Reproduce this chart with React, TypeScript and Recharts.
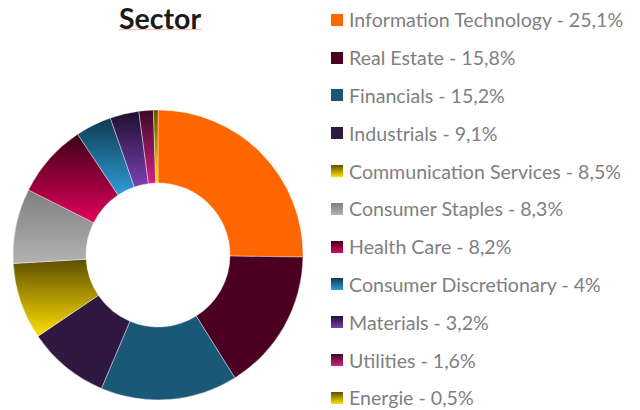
import { PieChart, Pie, Cell, Legend } from 'recharts';

// sector allocation, clockwise from 12 o'clock
const sectors = [
  'Information Technology',
  'Real Estate',
  'Financials',
  'Industrials',
  'Communication Services',
  'Consumer Staples',
  'Health Care',
  'Consumer Discretionary',
  'Materials',
  'Utilities',
  'Energie',
];
const weights = [25.1, 15.8, 15.2, 9.1, 8.5, 8.3, 8.2, 4, 3.2, 1.6, 0.5];
const weightLabels = ['25,1%', '15,8%', '15,2%', '9,1%', '8,5%', '8,3%', '8,2%', '4%', '3,2%', '1,6%', '0,5%'];
// [top, bottom] of each slice's vertical gradient
const colorTop = ['#FF6600', '#4B0021', '#1A5878', '#2F1940', '#5E4F00', '#7F7F7F', '#3C0016', '#0F3A50', '#1E0E2E', '#3A0A25', '#5E4F00'];
const colorBottom = ['#FF6600', '#4B0021', '#1A5878', '#2F1940', '#FFE000', '#B2B2B2', '#E2005E', '#2E9DD8', '#7C40B2', '#D62082', '#FFE000'];

const data = sectors.map((name, i) => ({ name, value: weights[i], label: weightLabels[i] }));

const FONT = 'Lato, "Open Sans", sans-serif';

function SectorLegend() {
  return (
    <div style={{ fontFamily: FONT }}>
      {data.map((d, i) => (
        <div key={d.name} style={{ display: 'flex', alignItems: 'center', height: 37.8 }}>
          <span
            style={{
              width: 12,
              height: 12,
              marginRight: 6,
              flex: 'none',
              background: `linear-gradient(${colorTop[i]}, ${colorBottom[i]})`,
            }}
          />
          <span style={{ fontSize: 19.6, color: '#7F7F7F', whiteSpace: 'nowrap' }}>
            {d.name} - {d.label}
          </span>
        </div>
      ))}
    </div>
  );
}

export default function App() {
  return (
    <div style={{ position: 'absolute', left: 0, top: 0, width: 640, height: 410, background: '#fff' }}>
      <div
        style={{
          position: 'absolute',
          left: 0,
          width: 320,
          top: 0.5,
          textAlign: 'center',
          fontFamily: FONT,
          fontWeight: 700,
          fontSize: 28.5,
          lineHeight: 'normal',
          color: '#1a1a1a',
        }}
      >
        Sector
      </div>
      <div style={{ position: 'absolute', left: 119, top: 29, width: 83, height: 1, background: '#f4b8b8' }} />
      <PieChart width={640} height={410} margin={{ top: 0, right: 0, bottom: 0, left: 0 }}>
        <defs>
          {data.map((d, i) => (
            <linearGradient key={d.name} id={`grad${i}`} x1="0" y1="0" x2="0" y2="1">
              <stop offset="0%" stopColor={colorTop[i]} />
              <stop offset="100%" stopColor={colorBottom[i]} />
            </linearGradient>
          ))}
        </defs>
        <Pie
          data={data}
          dataKey="value"
          nameKey="name"
          cx={158}
          cy={255}
          innerRadius={72}
          outerRadius={145}
          startAngle={90}
          endAngle={-270}
          stroke="#ffffff"
          strokeWidth={0.4}
          isAnimationActive={false}
        >
          {data.map((d, i) => (
            <Cell key={d.name} fill={`url(#grad${i})`} />
          ))}
        </Pie>
        <Legend
          layout="vertical"
          align="right"
          verticalAlign="middle"
          content={() => <SectorLegend />}
          wrapperStyle={{ position: 'absolute', left: 331, top: 1, width: 305 }}
        />
      </PieChart>
    </div>
  );
}
